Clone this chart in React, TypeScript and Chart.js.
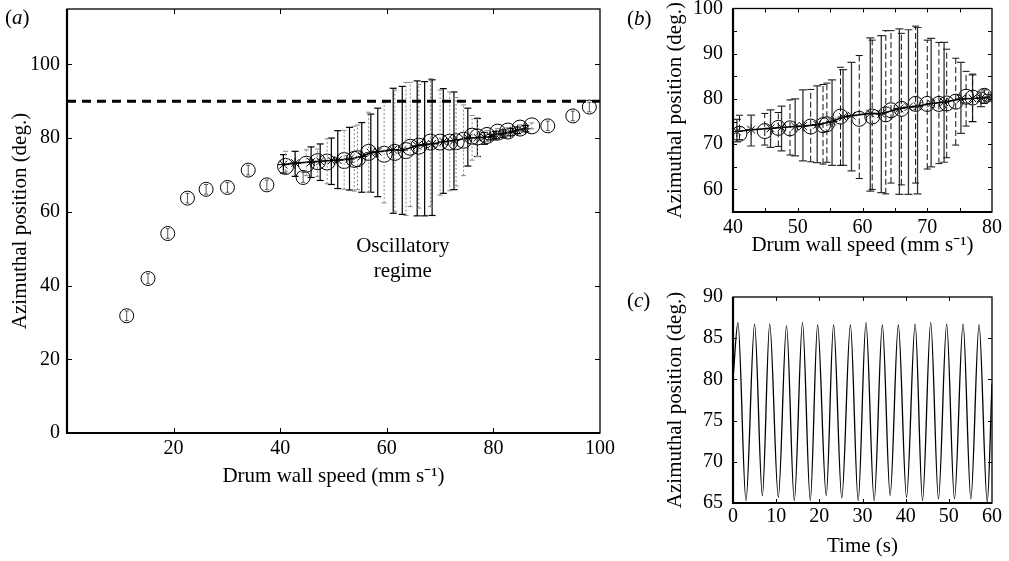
import React, { useEffect, useRef } from "react";
import { Chart, registerables } from "chart.js";
Chart.register(...registerables);

const FONT = '"Liberation Serif", "Times New Roman", Times, serif';

// ---------- Panel (a) ----------
const aXTicks = [0, 20, 40, 60, 80, 100];
const aYTicks = [0, 20, 40, 60, 80, 100];
const thresholdAngle = 90;
const isoSpeed = [11.2, 15.2, 18.9, 22.6, 26.1, 30.1, 34.0, 37.5, 44.3, 90.2, 94.9, 98.0];
const isoAngle = [31.8, 41.9, 54.1, 63.7, 66.1, 66.6, 71.3, 67.3, 69.3, 83.3, 86.0, 88.4];

// ---------- Oscillatory cluster (panel b, and a) ----------
const starSpeed = [40.6, 42.8, 45.8, 47.5, 49.6, 50.8, 53.0, 55.3, 57.0, 58.3, 61.2, 62.9, 65.7, 67.1, 68.5, 70.6, 72.6, 75.2, 77.0, 78.3, 79.5];
const starMean = [72.8, 73.2, 73.5, 73.7, 73.9, 74.0, 74.3, 75.0, 76.0, 76.3, 76.8, 76.7, 77.9, 78.2, 78.4, 79.0, 79.3, 80.0, 80.1, 80.2, 80.4];
const starLow = [70.5, 69.6, 69.3, 68.5, 67.4, 66.3, 65.9, 65.3, 65.3, 64.1, 59.6, 59.3, 58.9, 58.9, 59.0, 65.0, 66.0, 72.4, 75.0, 78.3, 79.5];
const starHigh = [75.5, 76.4, 77.6, 78.4, 80.0, 82.0, 82.9, 84.2, 86.5, 88.1, 93.5, 94.0, 95.5, 95.3, 95.8, 93.4, 92.5, 88.1, 85.3, 81.5, 81.0];

const circSpeed = [41.0, 44.9, 47.0, 48.8, 52.0, 53.9, 54.5, 56.6, 59.5, 61.5, 63.6, 64.4, 66.0, 68.2, 70.0, 71.8, 73.0, 74.4, 76.0, 77.0, 78.8];
const circMean = [72.3, 72.9, 73.6, 73.5, 73.9, 74.2, 74.4, 76.1, 75.6, 76.1, 76.6, 77.5, 77.8, 78.9, 78.9, 78.9, 79.0, 79.4, 80.5, 80.3, 80.7];
const circLow = [71.0, 69.8, 69.5, 67.6, 66.1, 65.6, 66.0, 65.3, 62.4, 60.0, 59.0, 61.4, 61.0, 61.4, 64.5, 65.7, 67.0, 69.8, 74.0, 75.0, 79.0];
const circHigh = [76.4, 76.8, 77.0, 79.8, 82.1, 83.2, 83.5, 87.0, 89.6, 93.0, 95.1, 95.1, 94.5, 96.1, 93.0, 92.5, 91.0, 89.0, 86.1, 85.5, 82.0];

// extra points above 80 mm/s shown only in panel (a)
const starSpeedExtra = [80.5, 81.8, 83.2, 84.5, 86.0];
const starMeanExtra = [80.8, 81.2, 81.6, 82.1, 82.5];
const starLowExtra = [79.8, 80.2, 80.6, 81.2, 81.7];
const starHighExtra = [81.8, 82.2, 82.6, 83.0, 83.4];
const circSpeedExtra = [80.8, 82.7, 85.0, 87.2];
const circMeanExtra = [81.6, 81.9, 82.7, 83.3];
const circLowExtra = [80.6, 81.0, 81.8, 82.5];
const circHighExtra = [82.6, 82.8, 83.6, 84.1];

const bXTicks = [40, 45, 50, 55, 60, 65, 70, 75, 80];
const bYTicks = [55, 60, 65, 70, 75, 80, 85, 90, 95, 100];

// ---------- Panel (c) time series (peaks / troughs) ----------
const timeS = [0, 1.15, 3.0, 5.0, 6.8, 8.5, 10.5, 12.4, 14.2, 16.1, 17.9, 19.6, 21.6, 23.3, 25.2, 27.2, 29.0, 30.8, 32.7, 34.6, 36.4, 38.3, 40.2, 42.2, 43.9, 45.8, 47.6, 49.5, 51.3, 53.3, 55.1, 57.0, 58.9, 60];
const angleC = [80.0, 86.9, 65.3, 86.7, 65.9, 86.7, 65.7, 86.5, 65.3, 86.9, 65.3, 86.6, 65.9, 86.6, 65.6, 86.6, 65.3, 86.9, 65.3, 86.6, 65.9, 86.6, 65.7, 86.7, 65.3, 86.9, 65.5, 86.7, 65.5, 86.7, 65.5, 86.6, 65.1, 79.5];
const cXTicks = [0, 10, 20, 30, 40, 50, 60];
const cYTicks = [65, 70, 75, 80, 85, 90];

const yTitle = "Azimuthal position (deg.)";
const speedTitle = "Drum wall speed (mm s\u207B\u00B9)";

function pts(xs: number[], ys: number[]) {
  return xs.map((x, i) => ({ x, y: ys[i] }));
}
function bars(xs: number[], lo: number[], hi: number[]) {
  const out: any[] = [];
  xs.forEach((x, i) => {
    out.push({ x, y: lo[i] }, { x, y: hi[i] }, { x, y: null });
  });
  return out;
}

function makeFrame(tickLen: number, boxW: number, axisW: number) {
  return {
    id: "frameTicks",
    afterDraw(chart: any) {
      const { ctx, chartArea: a, scales } = chart;
      ctx.save();
      ctx.strokeStyle = "#000";
      ctx.lineWidth = 1;
      ctx.setLineDash([]);
      ctx.beginPath();
      for (const t of scales.x.ticks) {
        const px = Math.round(scales.x.getPixelForValue(t.value)) + 0.5;
        if (px <= a.left + 1.5 || px >= a.right - 1.5) continue;
        ctx.moveTo(px, a.bottom);
        ctx.lineTo(px, a.bottom - tickLen);
        ctx.moveTo(px, a.top);
        ctx.lineTo(px, a.top + tickLen);
      }
      for (const t of scales.y.ticks) {
        const py = Math.round(scales.y.getPixelForValue(t.value)) + 0.5;
        if (py <= a.top + 1.5 || py >= a.bottom - 1.5) continue;
        ctx.moveTo(a.left, py);
        ctx.lineTo(a.left + tickLen, py);
        ctx.moveTo(a.right, py);
        ctx.lineTo(a.right - tickLen, py);
      }
      ctx.stroke();
      ctx.lineWidth = boxW;
      ctx.strokeRect(a.left, a.top, a.right - a.left, a.bottom - a.top);
      ctx.lineWidth = axisW;
      ctx.beginPath();
      ctx.moveTo(a.left, a.top);
      ctx.lineTo(a.left, a.bottom);
      ctx.lineTo(a.right, a.bottom);
      ctx.stroke();
      ctx.restore();
    },
  };
}

const noteX = 63;
const noteLines = ["Oscillatory", "regime"];
const noteY = [50.6, 43.8];
const notePlugin = {
  id: "note",
  afterDatasetsDraw(chart: any) {
    const { ctx, scales } = chart;
    ctx.save();
    ctx.fillStyle = "#000";
    ctx.font = `21px ${FONT}`;
    ctx.textAlign = "center";
    ctx.textBaseline = "middle";
    noteLines.forEach((s, i) => {
      ctx.fillText(s, scales.x.getPixelForValue(noteX), scales.y.getPixelForValue(noteY[i]));
    });
    ctx.restore();
  },
};

function axis(opts: any) {
  const { min, max, ticks, size, isX, title, titlePad, labelPad, label } = opts;
  return {
    type: "linear",
    min,
    max,
    afterBuildTicks: (s: any) => {
      s.ticks = ticks.map((v: number) => ({ value: v }));
    },
    afterFit: (s: any) => {
      if (isX) s.height = size;
      else s.width = size;
      s.paddingTop = 0;
      s.paddingBottom = 0;
      s.paddingLeft = 0;
      s.paddingRight = 0;
    },
    grid: { display: false, drawTicks: false },
    border: { display: false },
    ticks: {
      color: "#000",
      padding: labelPad,
      font: { size: 20, family: FONT },
      maxRotation: 0,
      autoSkip: false,
      callback: label || ((v: any) => String(v)),
    },
    title: {
      display: true,
      text: title,
      color: "#000",
      font: { size: 21, family: FONT },
      padding: titlePad,
    },
  };
}

const common = {
  animation: false,
  responsive: false,
  events: [],
  plugins: { legend: { display: false }, tooltip: { enabled: false } },
};

export default function App() {
  const aRef = useRef<HTMLCanvasElement>(null);
  const bRef = useRef<HTMLCanvasElement>(null);
  const cRef = useRef<HTMLCanvasElement>(null);

  useEffect(() => {
    Chart.defaults.font.family = FONT;
    const charts: Chart[] = [];

    // Panel (a)
    charts.push(
      new Chart(aRef.current!, {
        type: "scatter",
        data: {
          datasets: [
            {
              data: [{ x: 0, y: thresholdAngle }, { x: 100, y: thresholdAngle }],
              showLine: true,
              borderColor: "#000",
              borderWidth: 3,
              borderDash: [9, 6],
              pointRadius: 0,
            },
            {
              data: bars([...circSpeed, ...circSpeedExtra], [...circLow, ...circLowExtra], [...circHigh, ...circHighExtra]),
              showLine: true,
              spanGaps: false,
              borderColor: "#8a8a8a",
              borderWidth: 1,
              borderDash: [2, 2],
              pointStyle: "line",
              pointRadius: 2.5,
              pointBorderColor: "#8a8a8a",
              pointBorderWidth: 1,
            },
            {
              data: bars([...starSpeed, ...starSpeedExtra], [...starLow, ...starLowExtra], [...starHigh, ...starHighExtra]),
              showLine: true,
              spanGaps: false,
              borderColor: "#000",
              borderWidth: 1.2,
              pointStyle: "line",
              pointRadius: 3.5,
              pointBorderColor: "#000",
              pointBorderWidth: 1.2,
            },
            {
              data: bars(isoSpeed, isoAngle.map((v) => v - 1.3), isoAngle.map((v) => v + 1.3)),
              showLine: true,
              spanGaps: false,
              borderColor: "#555",
              borderWidth: 1,
              pointStyle: "line",
              pointRadius: 2,
              pointBorderColor: "#555",
              pointBorderWidth: 1,
            },
            {
              data: pts([...circSpeed, ...circSpeedExtra], [...circMean, ...circMeanExtra]),
              pointStyle: "circle",
              pointRadius: 8,
              pointBorderWidth: 1,
              pointBorderColor: "#000",
              pointBackgroundColor: "rgba(0,0,0,0)",
            },
            {
              data: pts([...starSpeed, ...starSpeedExtra], [...starMean, ...starMeanExtra]),
              showLine: true,
              borderColor: "#000",
              borderWidth: 1.6,
              pointStyle: "star",
              pointRadius: 5.5,
              pointBorderWidth: 1,
              pointBorderColor: "#000",
              pointBackgroundColor: "rgba(0,0,0,0)",
            },
            {
              data: pts(isoSpeed, isoAngle),
              pointStyle: "circle",
              pointRadius: 7,
              pointBorderWidth: 1,
              pointBorderColor: "#000",
              pointBackgroundColor: "rgba(0,0,0,0)",
            },
          ],
        },
        options: {
          ...common,
          layout: { padding: { top: 9, right: 30, left: 0, bottom: 0 } },
          scales: {
            x: axis({ min: 0, max: 100, ticks: aXTicks, size: 67, isX: true, title: speedTitle, titlePad: { top: 0, bottom: 11 }, labelPad: 4, label: (v: any) => (v === 0 ? "" : String(v)) }),
            y: axis({ min: 0, max: 115, ticks: aYTicks, size: 67, isX: false, title: yTitle, titlePad: { top: 8, bottom: 0 }, labelPad: 7 }),
          },
        } as any,
        plugins: [makeFrame(5, 1.3, 2.2), notePlugin],
      } as any)
    );

    // Panel (b)
    charts.push(
      new Chart(bRef.current!, {
        type: "scatter",
        data: {
          datasets: [
            {
              data: bars(circSpeed, circLow, circHigh),
              showLine: true,
              spanGaps: false,
              borderColor: "#111",
              borderWidth: 1,
              borderDash: [6, 3],
              pointStyle: "line",
              pointRadius: 3.5,
              pointBorderColor: "#111",
              pointBorderWidth: 1,
            },
            {
              data: bars(starSpeed, starLow, starHigh),
              showLine: true,
              spanGaps: false,
              borderColor: "#333",
              borderWidth: 1.3,
              pointStyle: "line",
              pointRadius: 4,
              pointBorderColor: "#333",
              pointBorderWidth: 1.2,
            },
            {
              data: pts(circSpeed, circMean),
              pointStyle: "circle",
              pointRadius: 7.5,
              pointBorderWidth: 1,
              pointBorderColor: "#000",
              pointBackgroundColor: "rgba(0,0,0,0)",
            },
            {
              data: pts(starSpeed, starMean),
              showLine: true,
              borderColor: "#000",
              borderWidth: 1.6,
              pointStyle: "star",
              pointRadius: 5.5,
              pointBorderWidth: 1,
              pointBorderColor: "#000",
              pointBackgroundColor: "rgba(0,0,0,0)",
            },
          ],
        },
        options: {
          ...common,
          layout: { padding: { top: 8, right: 17, left: 0, bottom: 0 } },
          scales: {
            x: axis({ min: 40, max: 80, ticks: bXTicks, size: 58, isX: true, title: speedTitle, titlePad: { top: 0, bottom: 12 }, labelPad: 4, label: (v: any) => (v % 10 === 0 ? String(v) : "") }),
            y: axis({ min: 55, max: 100, ticks: bYTicks, size: 93, isX: false, title: yTitle, titlePad: { top: 23, bottom: 0 }, labelPad: 10, label: (v: any) => (v % 10 === 0 ? String(v) : "") }),
          },
        } as any,
        plugins: [makeFrame(4, 1.3, 2.2)],
      } as any)
    );

    // Panel (c)
    charts.push(
      new Chart(cRef.current!, {
        type: "scatter",
        data: {
          datasets: [
            {
              data: pts(timeS, angleC),
              showLine: true,
              cubicInterpolationMode: "monotone",
              borderColor: "#000",
              borderWidth: 1.3,
              pointRadius: 0,
            },
          ],
        },
        options: {
          ...common,
          layout: { padding: { top: 17, right: 17, left: 0, bottom: 0 } },
          scales: {
            x: axis({ min: 0, max: 60, ticks: cXTicks, size: 58, isX: true, title: "Time (s)", titlePad: { top: 0, bottom: 2 }, labelPad: 2 }),
            y: axis({ min: 65, max: 90, ticks: cYTicks, size: 93, isX: false, title: yTitle, titlePad: { top: 23, bottom: 0 }, labelPad: 10 }),
          },
        } as any,
        plugins: [makeFrame(4, 1.3, 2.2)],
      } as any)
    );

    return () => charts.forEach((c) => c.destroy());
  }, []);

  const lab = (left: number, top: number, ch: string) => (
    <div style={{ position: "absolute", left, top, fontSize: 21, lineHeight: "24px", fontFamily: FONT, color: "#000" }}>
      (<i>{ch}</i>)
    </div>
  );

  return (
    <div style={{ position: "fixed", left: 0, top: 0, width: 1009, height: 561, background: "#fff", overflow: "hidden" }}>
      <canvas ref={aRef} width={630} height={500} style={{ position: "absolute", left: 0, top: 0, width: 630, height: 500 }} />
      <canvas ref={bRef} width={369} height={270} style={{ position: "absolute", left: 640, top: 0, width: 369, height: 270 }} />
      <canvas ref={cRef} width={369} height={281} style={{ position: "absolute", left: 640, top: 280, width: 369, height: 281 }} />
      {lab(5, 5, "a")}
      {lab(627, 6, "b")}
      {lab(627, 288, "c")}
    </div>
  );
}
